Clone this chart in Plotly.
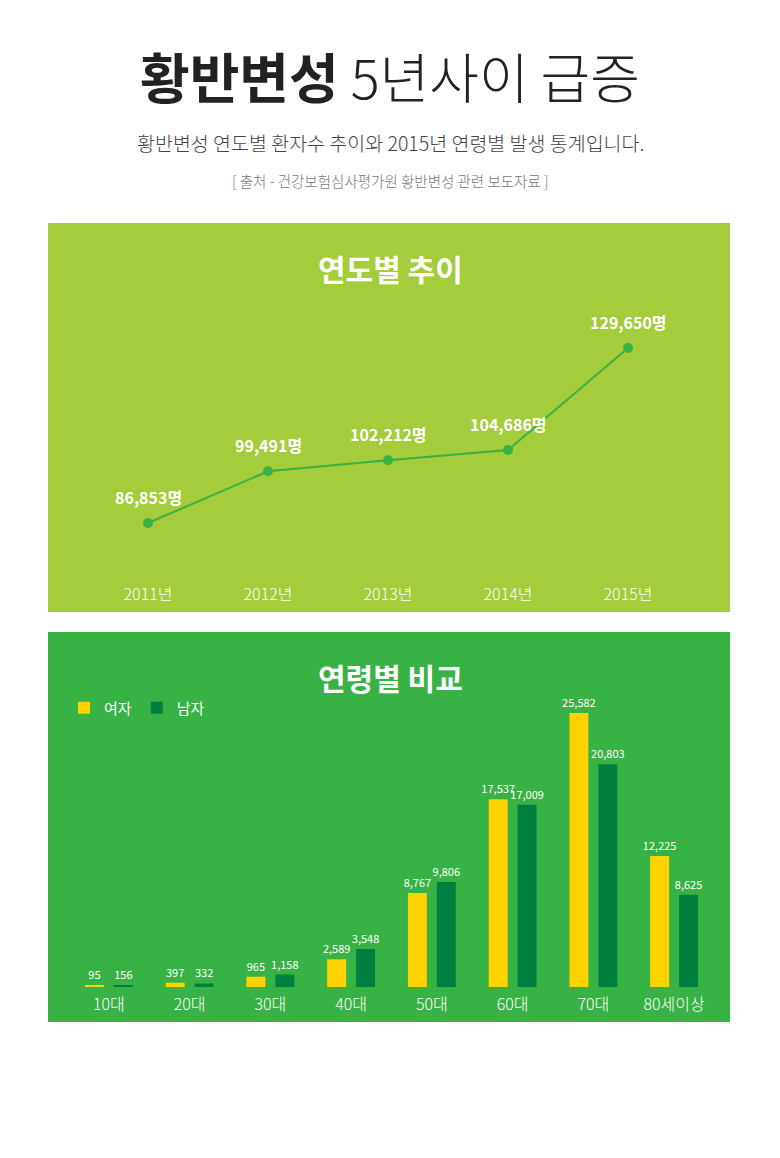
import plotly.graph_objects as go

# 연도별 환자수
years = ["2011년", "2012년", "2013년", "2014년", "2015년"]
patients = [86853, 99491, 102212, 104686, 129650]

# 2015년 연령별
age_groups = ["10대", "20대", "30대", "40대", "50대", "60대", "70대", "80세이상"]
female = [95, 397, 965, 2589, 8767, 17537, 25582, 12225]
male = [156, 332, 1158, 3548, 9806, 17009, 20803, 8625]

FONT = "Noto Sans CJK KR"
W, H = 780, 1158
PAGE_MARGIN = 8  # body margin of the html page
LIGHT_GREEN = "#a4cc3b"
GREEN = "#38b145"
YELLOW = "#ffd200"
DARK_GREEN = "#00803e"


def px_x(px):
    return (px - PAGE_MARGIN) / W


def px_y(py):
    return 1 - (py - PAGE_MARGIN) / H


fig = go.Figure()

fig.add_trace(go.Scatter(
    x=years, y=patients, mode="lines+markers",
    line=dict(color=GREEN, width=2),
    marker=dict(color=GREEN, size=10),
    xaxis="x", yaxis="y", showlegend=False, cliponaxis=False,
    hovertemplate="%{x}: %{y:,}명<extra></extra>",
))

bar_text = dict(texttemplate="%{y:,}", textposition="outside", cliponaxis=False,
                constraintext="none", textfont=dict(color="white", size=11, family=FONT),
                marker_line_width=0, xaxis="x2", yaxis="y2")
fig.add_trace(go.Bar(name="여자", x=age_groups, y=female, marker_color=YELLOW, **bar_text))
fig.add_trace(go.Bar(name="남자", x=age_groups, y=male, marker_color=DARK_GREEN, **bar_text))

# value labels above the line points
annotations = []
for yr, val in zip(years, patients):
    annotations.append(dict(
        x=yr, y=val, xref="x", yref="y", text=f"<b>{val:,}명</b>",
        showarrow=False, yshift=26, font=dict(color="white", size=16, family=FONT),
    ))


def label(py, text, size, color, weight="normal"):
    return dict(x=px_x(390), y=px_y(py), xref="paper", yref="paper", showarrow=False,
                xanchor="center", yanchor="middle", text=text,
                font=dict(size=size, color=color, family=FONT, weight=weight))


annotations += [
    label(75, "<b>황반변성</b> 5년사이 급증", 54, "#222222", weight=300),
    label(142, "황반변성 연도별 환자수 추이와 2015년 연령별 발생 통계입니다.", 19.5, "#444444", weight=300),
    label(181, "[ 출처 - 건강보험심사평가원 황반변성 관련 보도자료 ]", 14.5, "#777777", weight=300),
    label(268, "연도별 추이", 30, "white", weight="bold"),
    label(677, "연령별 비교", 30, "white", weight="bold"),
]

shapes = [
    dict(type="rect", xref="paper", yref="paper", layer="below", line_width=0,
         x0=px_x(48), x1=px_x(730), y0=px_y(612), y1=px_y(223), fillcolor=LIGHT_GREEN),
    dict(type="rect", xref="paper", yref="paper", layer="below", line_width=0,
         x0=px_x(48), x1=px_x(730), y0=px_y(1022), y1=px_y(632), fillcolor=GREEN),
]

axis_common = dict(showgrid=False, zeroline=False, showline=False, ticks="")
tick_font = dict(color="white", size=16, family=FONT, weight=300)

fig.update_layout(
    width=W, height=H,
    margin=dict(l=0, r=0, t=0, b=0),
    paper_bgcolor="white", plot_bgcolor="rgba(0,0,0,0)",
    font=dict(family=FONT),
    xaxis=dict(domain=[px_x(88), px_x(688)], anchor="y", range=[-0.5, 4.5],
               tickfont=tick_font, ticklabelstandoff=5, **axis_common),
    yaxis=dict(domain=[px_y(578), px_y(330)], anchor="x", range=[73400, 134050],
               showticklabels=False, **axis_common),
    xaxis2=dict(domain=[px_x(68.5), px_x(714.5)], anchor="y2",
                tickfont=tick_font, ticklabelstandoff=6, **axis_common),
    yaxis2=dict(domain=[px_y(987), px_y(700)], anchor="x2", range=[0, 26800],
                showticklabels=False, **axis_common),
    barmode="group", bargap=0.284, bargroupgap=0.345,
    legend=dict(orientation="h", x=px_x(64), y=px_y(708), xanchor="left", yanchor="middle",
                bgcolor="rgba(0,0,0,0)", font=dict(color="white", size=15, family=FONT),
                itemwidth=30, traceorder="normal"),
    annotations=annotations,
    shapes=shapes,
)

fig.write_html("out.html")
